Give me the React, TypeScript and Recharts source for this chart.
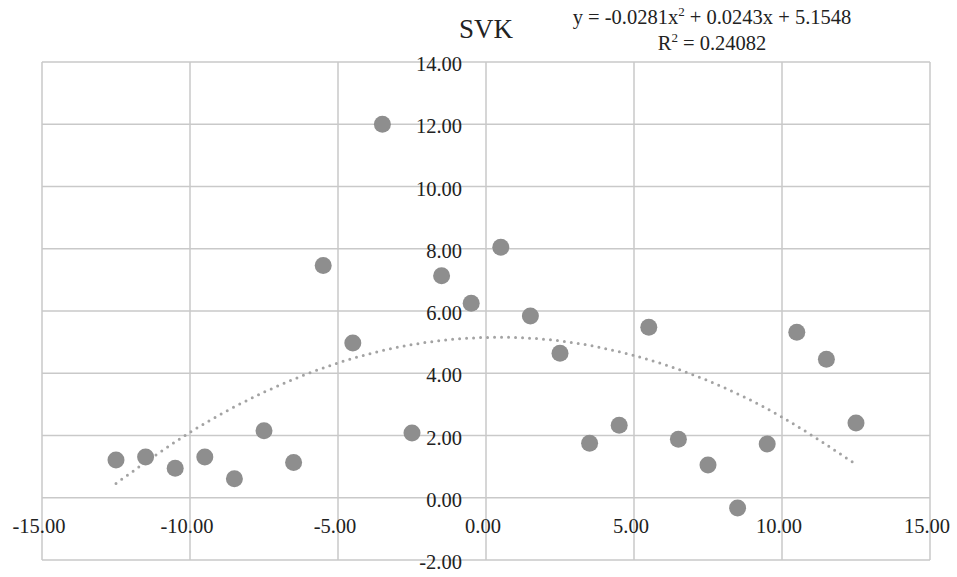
import { ComposedChart, Scatter, Line, XAxis, YAxis, CartesianGrid } from 'recharts'

// observed points (x, y)
const xs = [-12.5, -11.5, -10.5, -9.5, -8.5, -7.5, -6.5, -5.5, -4.5, -3.5, -2.5, -1.5, -0.5, 0.5, 1.5, 2.5, 3.5, 4.5, 5.5, 6.5, 7.5, 8.5, 9.5, 10.5, 11.5, 12.5]
const ys = [1.21, 1.31, 0.95, 1.31, 0.61, 2.15, 1.13, 7.46, 4.97, 12.0, 2.08, 7.13, 6.25, 8.05, 5.84, 4.64, 1.75, 2.33, 5.48, 1.88, 1.05, -0.33, 1.73, 5.32, 4.45, 2.4]

// polynomial trendline
const trendX = [-12.5, -10, -7.5, -5, -2.5, 0, 2.5, 5, 7.5, 10, 12.5]
const trendY = [0.46, 2.1, 3.39, 4.33, 4.92, 5.15, 5.04, 4.57, 3.76, 2.59, 1.07]

const xTicks = [-15, -10, -5, 0, 5, 10, 15]
const yTicks = [-2, 0, 2, 4, 6, 8, 10, 12, 14]

const W = 957
const H = 577
const PLOT = { top: 62, right: 27, bottom: 17, left: 42 }
const plotW = W - PLOT.left - PLOT.right
const plotH = H - PLOT.top - PLOT.bottom
const zeroY = PLOT.top + (plotH * 14) / 16
const zeroX = PLOT.left + plotW / 2

const FONT = '"Liberation Serif", "DejaVu Serif", serif'
const GRID = '#c9c9c9'

const points = xs.map((x, i) => ({ x, y: ys[i] }))
const trend = trendX.map((x, i) => ({ x, t: trendY[i] }))

function XTick(props: any) {
  return (
    <text x={props.x - 3} y={zeroY + 35} textAnchor="middle" fontFamily={FONT} fontSize={20.5} fill="#222">
      {Number(props.payload.value).toFixed(2)}
    </text>
  )
}

function YTick(props: any) {
  return (
    <text x={zeroX - 24} y={props.y + 9} textAnchor="end" fontFamily={FONT} fontSize={20.5} fill="#222">
      {Number(props.payload.value).toFixed(2)}
    </text>
  )
}

const Dot = (p: any) => <circle cx={p.cx} cy={p.cy} r={8.5} fill="#8e8e8e" />

export default function App() {
  return (
    <div style={{ position: 'absolute', left: 0, top: 0, width: W, height: H, background: '#fff' }}>
      <svg width={W} height={H} style={{ position: 'absolute', left: 0, top: 0 }}>
        <text x={486} y={38} textAnchor="middle" fontFamily={FONT} fontSize={27} fill="#222">SVK</text>
        <text x={712} y={24} textAnchor="middle" fontFamily={FONT} fontSize={20.5} fill="#222">
          y = -0.0281x<tspan dy={-8} fontSize={13}>2</tspan><tspan dy={8}> + 0.0243x + 5.1548</tspan>
        </text>
        <text x={712} y={50} textAnchor="middle" fontFamily={FONT} fontSize={20.5} fill="#222">
          R<tspan dy={-8} fontSize={13}>2</tspan><tspan dy={8}> = 0.24082</tspan>
        </text>
      </svg>
      <div style={{ position: 'absolute', left: 0, top: 0 }}>
        <ComposedChart width={W} height={H} margin={{ top: PLOT.top, right: PLOT.right, bottom: 0, left: 0 }}>
          <CartesianGrid stroke={GRID} strokeWidth={1.5} horizontalValues={yTicks} verticalValues={xTicks} />
          <XAxis
            type="number"
            dataKey="x"
            domain={[-15, 15]}
            ticks={xTicks}
            interval={0}
            axisLine={false}
            tickLine={false}
            tick={<XTick />}
            height={PLOT.bottom}
            allowDataOverflow
          />
          <YAxis
            type="number"
            domain={[-2, 14]}
            ticks={yTicks}
            interval={0}
            axisLine={false}
            tickLine={false}
            tick={<YTick />}
            width={PLOT.left}
            allowDataOverflow
          />
          <Line
            data={trend}
            dataKey="t"
            type="natural"
            stroke="#a3a3a3"
            strokeWidth={3}
            strokeDasharray="0 7"
            strokeLinecap="round"
            dot={false}
            activeDot={false}
            isAnimationActive={false}
          />
          <Scatter data={points} dataKey="y" shape={<Dot />} isAnimationActive={false} />
        </ComposedChart>
      </div>
    </div>
  )
}
